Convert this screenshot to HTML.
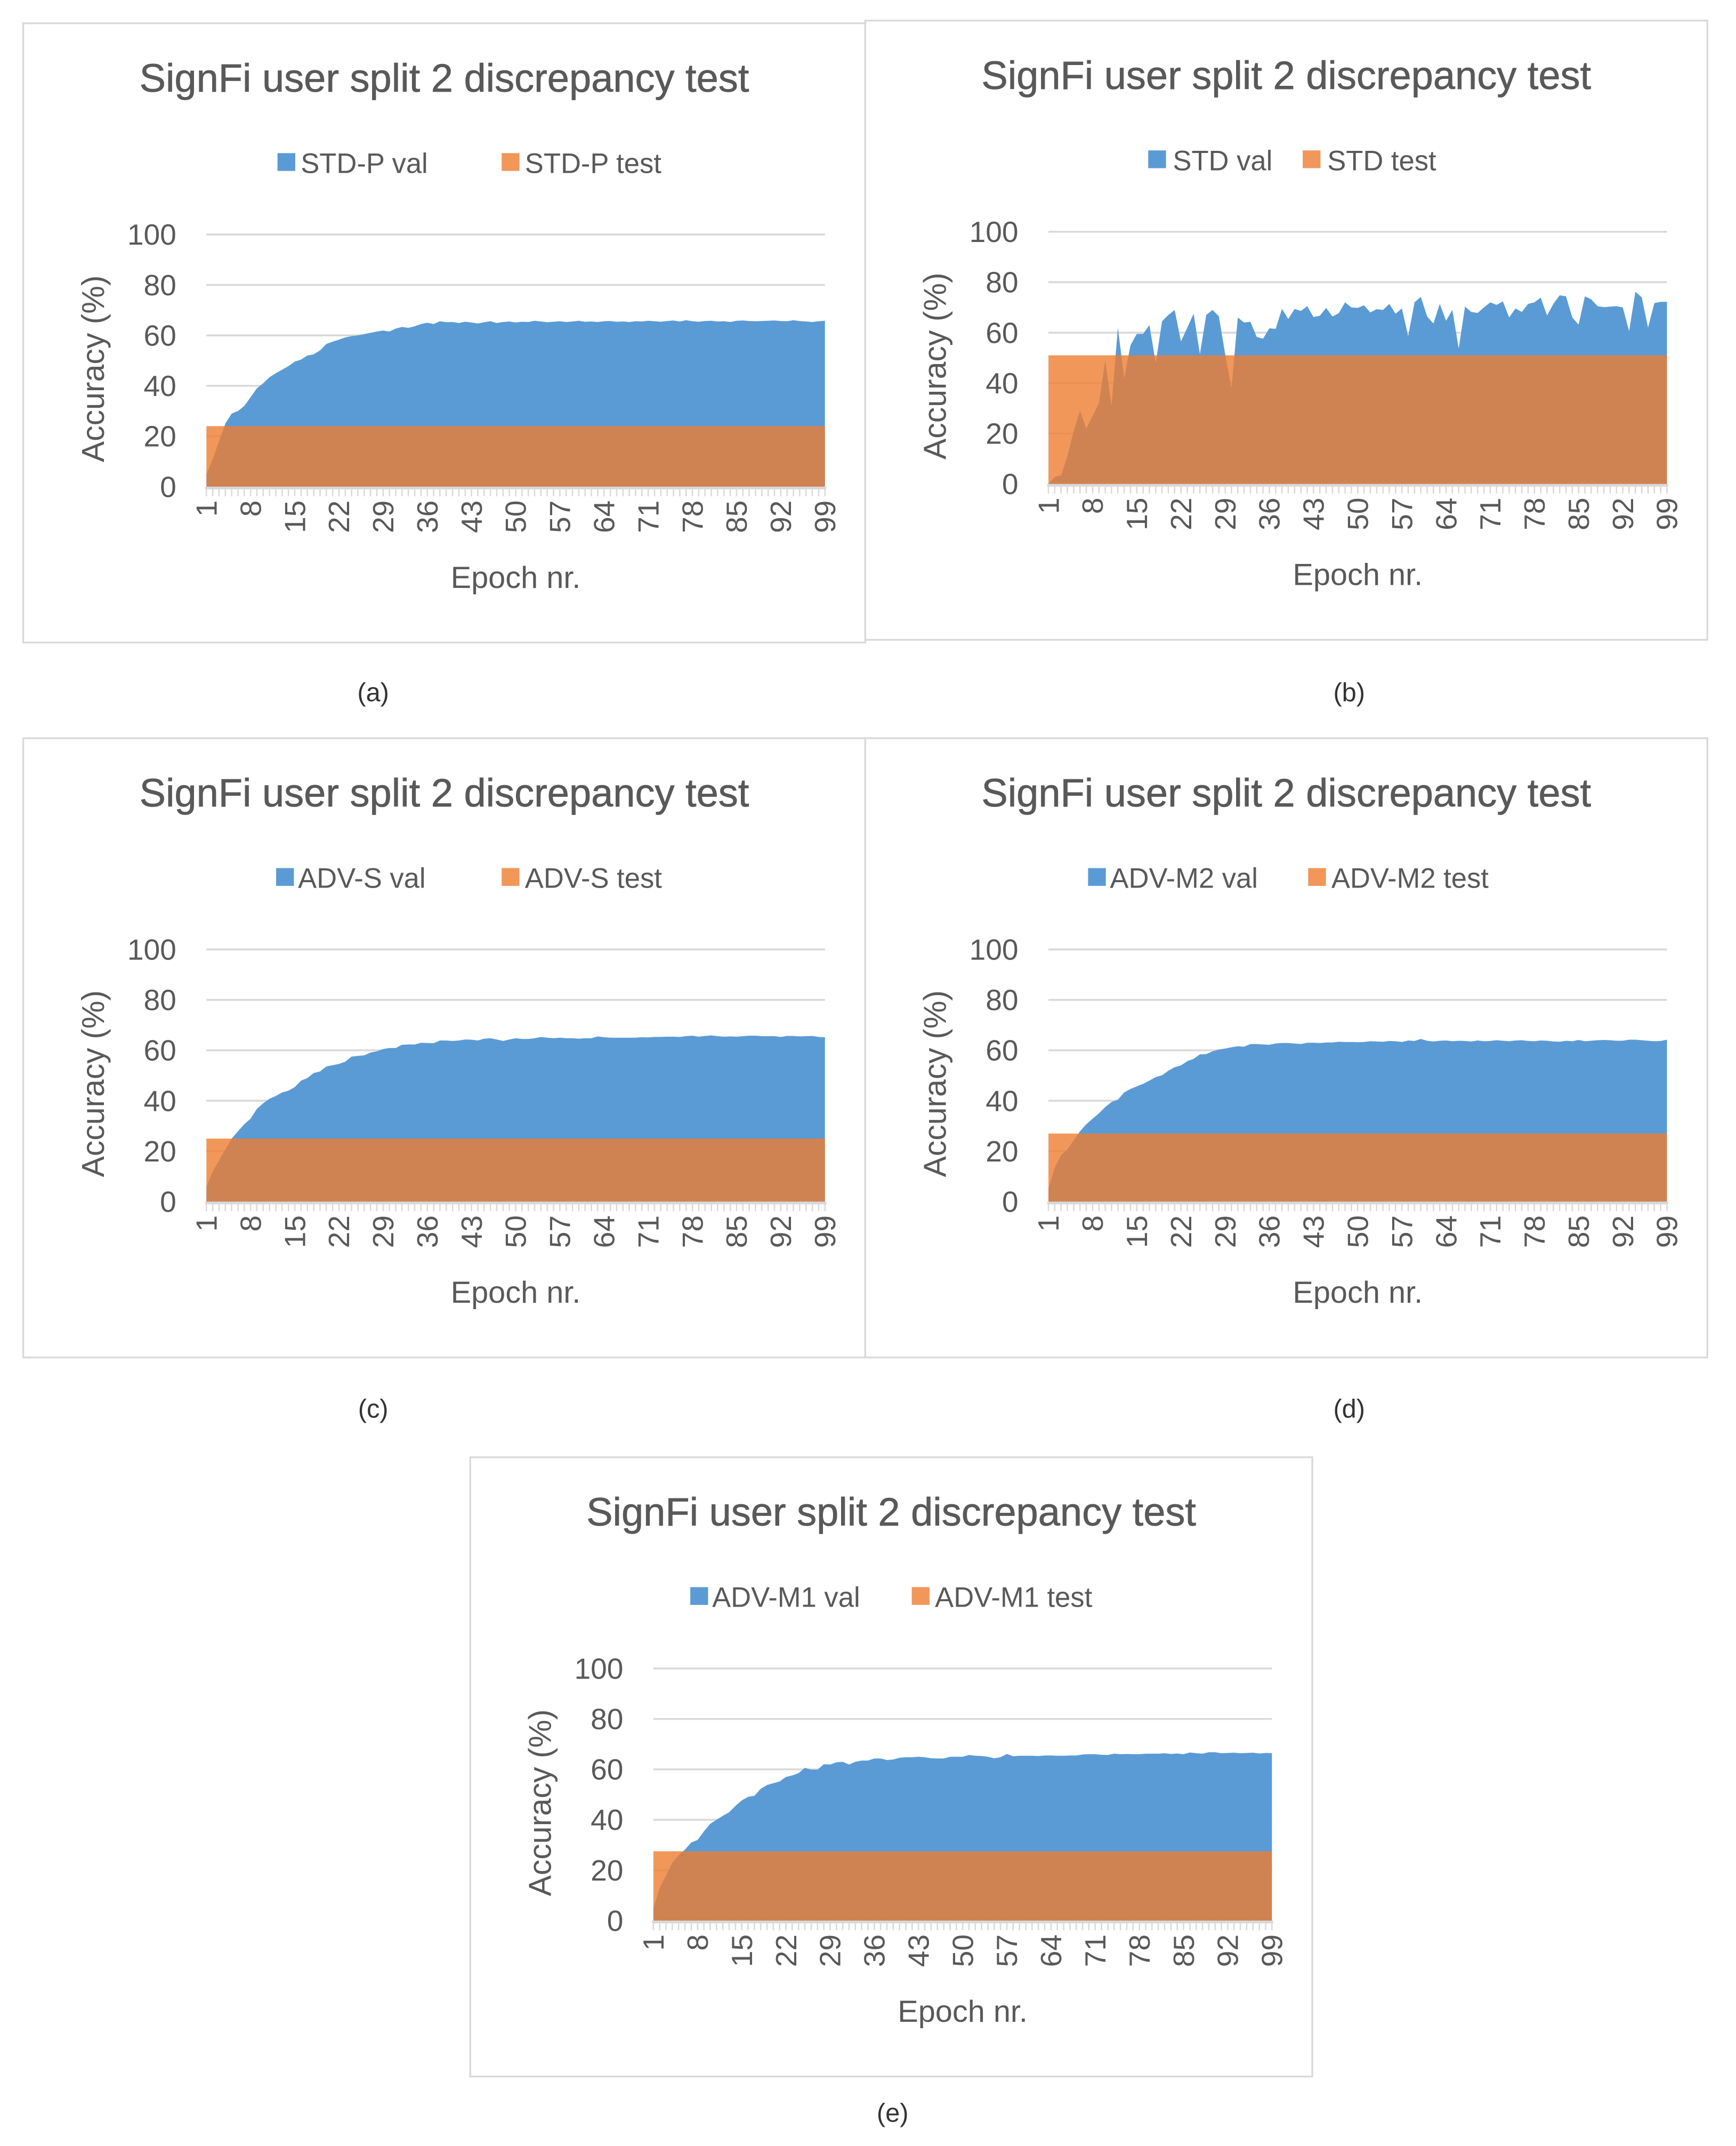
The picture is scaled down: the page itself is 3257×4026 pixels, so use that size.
<!DOCTYPE html>
<html><head><meta charset="utf-8">
<style>
html,body{margin:0;padding:0;background:#fff;}
svg{display:block;}
text{font-family:"Liberation Sans",sans-serif;}
</style></head>
<body>
<svg id="fig" xmlns="http://www.w3.org/2000/svg" width="3257" height="4026" viewBox="0 0 1270 1569.8">
<rect x="0" y="0" width="1270" height="1569.8" fill="#fff"/>
</svg>
<script>
// ---- data ----
const epochs = [];
for (let i = 1; i <= 99; i++) epochs.push(i);
const yTicks = [0, 20, 40, 60, 80, 100];
const xTickLabels = [1, 8, 15, 22, 29, 36, 43, 50, 57, 64, 71, 78, 85, 92, 99];
const panelNames = ["a", "b", "c", "d", "e"];
const valNames = ["STD-P val", "STD val", "ADV-S val", "ADV-M2 val", "ADV-M1 val"];
const testNames = ["STD-P test", "STD test", "ADV-S test", "ADV-M2 test", "ADV-M1 test"];
const testValues = [24, 51, 25, 27, 27.5];
const valA = [5,11,18,25,29,30,32,35.5,39,41,
43.4,45,46.4,47.8,49.6,50.4,52,52.5,54,56.6,
57.5,58.3,59.2,59.7,60,60.5,61,61.5,61.9,61.5,
62.7,63.3,63,63.6,64.5,65,64.5,65.6,65.2,65.3,
64.9,65.4,65.1,64.7,65.2,65.6,64.9,65.3,65.5,65.1,
65.4,65.3,65.8,65.5,65.2,65.4,65.6,65.3,65.5,65.8,
65.4,65.5,65.3,65.6,65.7,65.4,65.5,65.3,65.6,65.5,
65.8,65.6,65.4,65.7,65.9,65.5,66,65.6,65.4,65.7,
65.8,65.5,65.6,65.3,65.8,65.9,65.7,65.6,65.7,65.8,
65.9,65.7,65.6,66,65.7,65.5,65.3,65.6,65.8];
const valB = [0,2.8,3.4,11,21,29,22,27,32,49,
31,62,42,55,59.5,59.5,63,48,64.5,67,
69,56.5,62,67.5,51.5,67,69,66.5,51.5,38,
66,64,64.3,58.3,57.6,61.7,61.5,69.4,65.4,69.4,
68.6,70.5,66.2,66.7,69.8,66.4,67.7,72,70,69.8,
70.8,68,69.3,69,71.4,67.5,69.6,58.6,72,74.2,
66.4,63.6,71.4,64.7,69,53.7,70.3,68.2,67.8,70,
72,71,72.4,66,69.6,68.2,71.4,72,73.9,66.8,
71.4,74.8,74.4,66,63.2,74.4,73.2,70.5,70.1,70.3,
70.5,70,60.6,76.2,74,62,71.7,72.2,72.2];
const valC = [6,12,16.4,20.7,25,27.9,30.7,32.9,36.8,39,
40.8,41.9,43.3,44,45.4,48,49,51,51.6,53.6,
54.1,54.6,55.5,57.5,57.8,58,59.1,59.6,60.5,60.9,
60.9,62.2,62.3,62.3,63,62.9,62.8,63.9,63.9,63.7,
63.9,64.3,64.2,63.9,64.6,64.8,64.3,63.7,64.3,64.8,
64.5,64.5,64.8,65.3,65,64.8,65,64.8,64.8,64.6,
64.8,64.8,65.5,65.2,65,65,65,65,65,65.2,
65.1,65.3,65.3,65.4,65.4,65.3,65.6,65.8,65.4,65.7,
65.9,65.6,65.4,65.5,65.4,65.6,65.8,65.8,65.6,65.6,
65.6,65.3,65.7,65.7,65.5,65.6,65.7,65.3,65.2];
const valD = [5.2,13.5,18.4,20.7,24.3,27.9,30.7,32.9,35,37.5,
39.5,40.4,43.3,44.7,45.7,46.7,48,49.4,50.1,51.9,
53.3,54,55.7,56.6,58.4,58.5,59.6,60.3,60.7,61.2,
61.6,61.4,62.5,62.5,62.3,62.2,62.7,62.9,62.9,62.7,
62.5,63,63,62.9,63.1,63.1,63.4,63.3,63.3,63.2,
63.3,63.6,63.5,63.4,63.7,63.6,63.3,63.9,63.7,64.5,
63.8,63.5,63.8,63.9,63.6,63.8,63.7,63.5,63.9,63.6,
63.7,64,63.8,63.6,63.9,64,63.7,63.6,63.9,63.8,
63.5,63.4,63.8,63.6,64.1,63.6,63.8,64,64.1,64,
63.8,63.8,64.2,64.2,64,63.8,63.6,63.7,64.2];
const valE = [5,13,18,23,26,28.2,31,32,35.4,38.4,
40,41.6,43,45.5,47.7,49.1,49.5,52.3,53.8,54.5,
55.2,57,57.6,58.5,60.6,59.9,59.9,62,61.9,62.8,
63,61.9,63,63.5,63.5,64.3,64.3,63.7,63.9,64.6,
64.8,64.8,65,64.8,64.4,64.3,64.3,65,65,65,
65.7,65.4,65.3,65,64.4,64.8,66.1,65.2,65.4,65.4,
65.4,65.3,65.5,65.5,65.4,65.4,65.5,65.5,65.9,66,
66,65.8,65.7,66.2,66,66.1,66,66,66.2,66.2,
66.2,66.4,66.1,66.3,66,66.7,66.4,66.2,66.8,66.8,
66.4,66.5,66.6,66.4,66.5,66.6,66.3,66.5,66.4];
const valSeries = [valA, valB, valC, valD, valE];

// ---- layout (not data) ----
const boxes = [[17,17],[633,15],[17,540],[633,540],[344,1066]];
const captions = [[273,506],[987,506],[273,1030],[987,1030],[653,1545]];
const legendOff = [[186,203,350,367],[207,225,320,338],[185,201,350,367],[163,179,324,341],[161,177,323,340]];
const BOXW = 616, BOXH = 453;
const TXT = "#595959", GRID = "#d9d9d9";
const NS = "http://www.w3.org/2000/svg";
const svg = document.getElementById("fig");

function mk(tag, attrs, parent) {
  const e = document.createElementNS(NS, tag);
  for (const k in attrs) e.setAttribute(k, attrs[k]);
  (parent || svg).appendChild(e);
  return e;
}

panelNames.forEach((p, pi) => {
  const bx = boxes[pi][0], by = boxes[pi][1];
  const g = mk("g", {});
  
  

  const border = mk("rect", {x: bx, y: by, width: BOXW, height: BOXH, fill: "none", stroke: GRID, "stroke-width": 1.3}, g);
  
  

  const L = bx + 134, R = bx + 586.5, Y100 = by + 154.5, Y0 = by + 339;
  const xs = i => L + (R - L) * (i - 1) / 98;
  const ys = v => Y0 - (Y0 - Y100) * v / 100;

  const title = mk("text", {x: bx + 308, y: by + 50, "text-anchor": "middle", "font-size": 29, fill: TXT, stroke: TXT, "stroke-width": 0.3, textLength: 446, lengthAdjust: "spacingAndGlyphs"}, g);
  title.textContent = "SignFi user split 2 discrepancy test";
  
  

  const lo = legendOff[pi];
  const lg = mk("g", {}, g);
  
  
  const s1 = mk("rect", {x: bx + lo[0], y: by + 95, width: 13, height: 13, fill: "#5b9bd5"}, lg);
  
  
  const t1 = mk("text", {x: bx + lo[1], y: by + 109.5, "font-size": 20.5, fill: TXT}, lg);
  t1.textContent = valNames[pi];
  
  
  const s2 = mk("rect", {x: bx + lo[2], y: by + 95, width: 13, height: 13, fill: "#ed7d31", "fill-opacity": 0.8}, lg);
  
  
  const t2 = mk("text", {x: bx + lo[3], y: by + 109.5, "font-size": 20.5, fill: TXT}, lg);
  t2.textContent = testNames[pi];
  
  

  yTicks.forEach(v => {
    const gl = mk("line", {x1: L, x2: R, y1: ys(v), y2: ys(v), stroke: GRID, "stroke-width": 1.4}, g);
    
    
    const tl = mk("text", {x: L - 22, y: ys(v) + 7.5, "text-anchor": "end", "font-size": 21.5, fill: TXT}, g);
    tl.textContent = v;
    
    
  });

  const vals = valSeries[pi];
  let d = "M" + xs(1) + "," + Y0;
  vals.forEach((v, i) => { d += " L" + xs(epochs[i]) + "," + ys(v); });
  d += " L" + xs(epochs[vals.length - 1]) + "," + Y0 + " Z";
  const area1 = mk("path", {d: d, fill: "#5b9bd5"}, g);
  
  

  const tv = testValues[pi];
  const area2 = mk("rect", {x: xs(1), y: ys(tv), width: xs(99) - xs(1), height: Y0 - ys(tv), fill: "#ed7d31", "fill-opacity": 0.8}, g);
  
  

  const ax = mk("line", {x1: L - 1, x2: R + 1, y1: Y0 + 1, y2: Y0 + 1, stroke: GRID, "stroke-width": 2}, g);
  
  
  epochs.forEach(e => {
    const tk = mk("line", {x1: xs(e), x2: xs(e), y1: Y0, y2: Y0 + 7, stroke: GRID, "stroke-width": 1}, g);
    
    
  });
  xTickLabels.forEach(e => {
    const x = xs(e) + 7.5, y = Y0 + 10;
    const xl = mk("text", {x: x, y: y, "text-anchor": "end", "font-size": 21.5, fill: TXT, transform: "rotate(-90 " + x + " " + y + ")"}, g);
    xl.textContent = e;
    
    
  });

  const xt = mk("text", {x: (L + R) / 2, y: by + 413, "text-anchor": "middle", "font-size": 22.5, fill: TXT}, g);
  xt.textContent = "Epoch nr.";
  
  

  const yx = bx + 59, yy = (Y0 + Y100) / 2 + 6;
  const yt = mk("text", {x: yx, y: yy, "text-anchor": "middle", "font-size": 23, fill: TXT, transform: "rotate(-90 " + yx + " " + yy + ")"}, g);
  yt.textContent = "Accuracy (%)";
  
  

  const cap = mk("text", {x: captions[pi][0], y: captions[pi][1] + 7, "text-anchor": "middle", "font-size": 19, fill: "#333"});
  cap.textContent = "(" + p + ")";
  
  
});
</script>
</body></html>
